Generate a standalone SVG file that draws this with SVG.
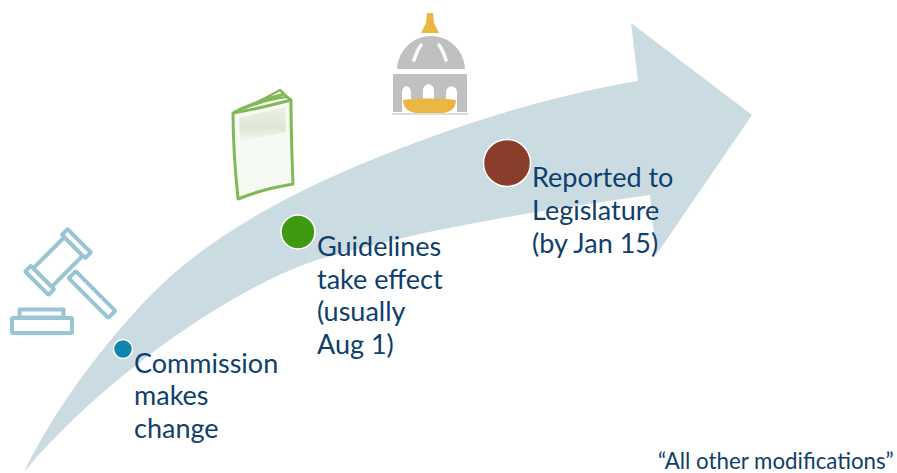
<svg xmlns="http://www.w3.org/2000/svg" width="897" height="473" viewBox="0 0 897 473">
<style>
.t{font-family:"Lato","Open Sans",sans-serif;font-size:27px;fill:#0e3f6b}
.g{fill:#fff;stroke:#97c5d2;stroke-width:4;stroke-linejoin:round}
.dot{stroke:#fff;stroke-width:1.5}
</style>
<defs>
<linearGradient id="band" x1="0" y1="0" x2="0" y2="1"><stop offset="0" stop-color="#eaf1e5"/><stop offset="0.6" stop-color="#dfe8d6"/><stop offset="1" stop-color="#f5faf3"/></linearGradient>
</defs>
<rect width="897" height="473" fill="#fff"/>
<g id="connectors">
<path id="arrow" fill="#cbdbe2" d="M24 472C64 390 122 325 150 296C190 255 240 222 300 192C380 152 520 100 638 81L631 23L752 115L656 255L650 195C540 210 420 230 317 260C240 285 110 370 24 472Z"/>
</g>
<g id="gavel">
<g transform="translate(58 262) rotate(45)">
<rect class="g" x="-13" y="-22" width="26" height="44"/>
<rect class="g" x="-16.500" y="-30" width="33" height="8" rx="1"/>
<rect class="g" x="-16.500" y="22" width="33" height="8" rx="1"/>
</g>
<rect class="g" x="64" y="289.500" width="56" height="10" rx="1" transform="rotate(45 92 294.500)"/>
<rect class="g" x="19.500" y="309.500" width="44" height="8"/>
<rect class="g" x="12" y="318" width="60" height="15" rx="1"/>
</g>
<g id="book">
<path fill="#f5faf3" d="M233 113L292 100L293 185L237 199Z"/>
<path fill="url(#band)" d="M239 118L285 107L286 132L240 142Z"/>
<path fill="none" stroke="#7fb95a" stroke-width="3" stroke-linejoin="round" d="M233 113C252 110 272 105 291 100C291 130 292 158 293 184C275 187 255 192 238 199C235 170 233 140 233 113Z"/>
<path fill="none" stroke="#7fb95a" stroke-width="2.500" stroke-linejoin="round" d="M234 112C250 106 266 98 280 90L285 95L291 100M238 110C254 103 270 97 285 94M245 108C258 103 272 98 287 97"/>
</g>
<g id="capitol">
<path fill="#eab842" d="M427 13H433L434 23L439 33H421L426 23Z"/>
<path fill="#c0c0c0" d="M397 69C398 50 413 36 431 36C449 36 464 50 465 69Z"/>
<path fill="none" stroke="#fff" stroke-width="3.500" stroke-linecap="round" d="M414 60C416 54 418 49 421 45M446 60C444 54 442 49 439 45"/>
<path fill="#c0c0c0" d="M393 74H467V112H393Z"/>
<path fill="#fff" d="M402 113V93C402 84 411 84 411 93V113ZM423 100V91C423 82 434 82 434 91V100ZM446 113V93C446 84 457 84 457 93V113Z"/>
<path fill="#eab842" d="M403 100C420 98 440 98 456 100C456 108 450 113 442 113H417C409 113 403 108 403 100Z"/>
<path stroke="#cfcfcf" stroke-width="1.500" d="M392 114H468"/>
</g>
<g id="node-commission">
<circle class="dot" cx="123" cy="349" r="9.500" fill="#0f86ab"/>
<text class="t"><tspan x="134" y="373">Commission</tspan><tspan x="134" y="405">makes</tspan><tspan x="134" y="438">change</tspan></text>
</g>
<g id="node-guidelines">
<circle class="dot" cx="298" cy="232" r="17" fill="#3f9a12"/>
<text class="t"><tspan x="317" y="256">Guidelines</tspan><tspan x="317" y="289">take effect</tspan><tspan x="317" y="321">(usually</tspan><tspan x="317" y="354">Aug 1)</tspan></text>
</g>
<g id="node-legislature">
<circle class="dot" cx="507" cy="163" r="23.500" fill="#8b3d2b"/>
<text class="t"><tspan x="532" y="187">Reported to</tspan><tspan x="532" y="220">Legislature</tspan><tspan x="532" y="253">(by Jan 15)</tspan></text>
</g>
<text x="658" y="469" font-family="Lato,'Open Sans',sans-serif" font-size="22.300" fill="#0e3f6b">“All other modifications”</text>
</svg>
